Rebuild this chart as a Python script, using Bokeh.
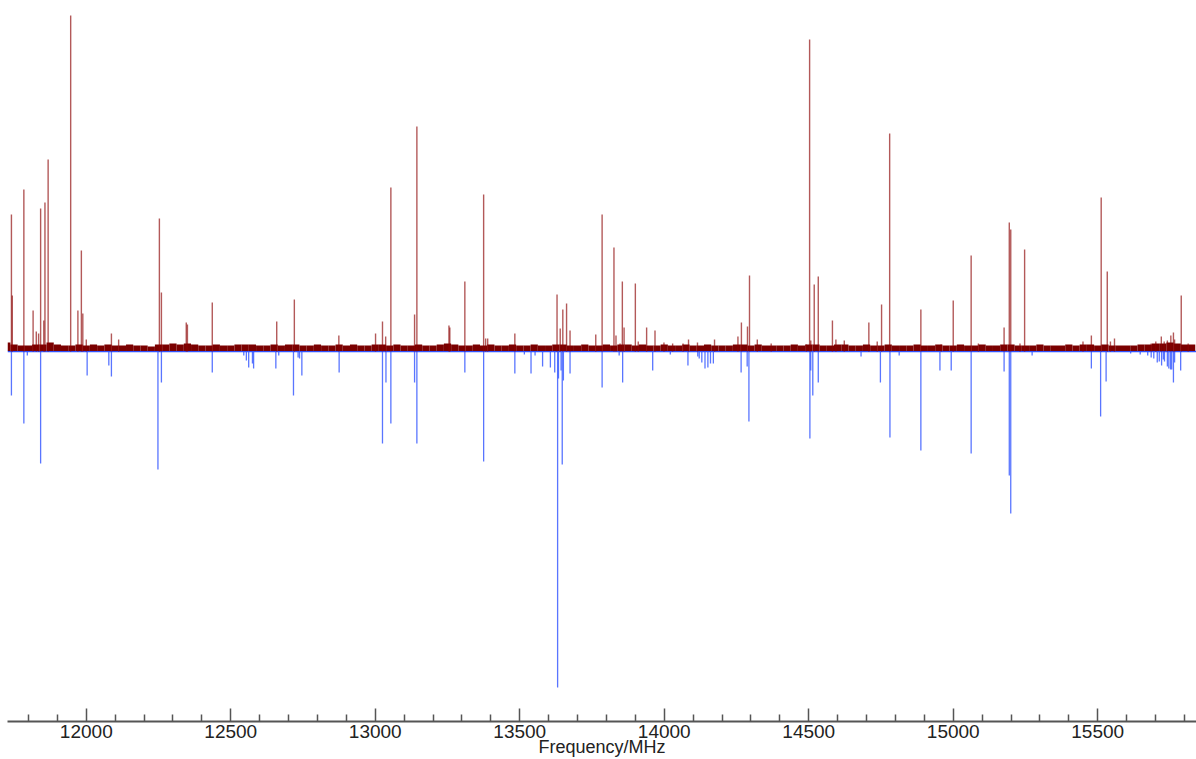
import numpy as np
from bokeh.plotting import figure
from bokeh.models import ColumnDataSource, Range1d, Span, FixedTicker
from bokeh.embed import file_html
from bokeh.resources import INLINE

# ---------------- data ----------------
# experimental spectrum: strong lines (frequency in MHz, intensity in arbitrary units)
exp_freq = [11741, 11744, 11784, 11816, 11827, 11835, 11842, 11853, 11857, 11868,
            11946, 11971, 11983, 11988, 12000, 12087, 12112, 12253, 12260, 12346,
            12350, 12436, 12659, 12720, 12874, 13001, 13025, 13036, 13054, 13136,
            13144, 13255, 13258, 13310, 13375, 13382, 13389, 13483, 13629, 13640,
            13649, 13662, 13674, 13763, 13785, 13826, 13833, 13847, 13855, 13861,
            13900, 13910, 13939, 13968, 13999, 14029, 14065, 14084, 14115, 14174,
            14255, 14267, 14288, 14295, 14322, 14370, 14492, 14503, 14507, 14519,
            14533, 14582, 14594, 14623, 14708, 14737, 14752, 14780, 14888, 14958,
            15000, 15062, 15087, 15176, 15194, 15199, 15231, 15247, 15449, 15478,
            15512, 15533, 15544, 15558, 15685, 15701, 15720, 15730, 15741, 15753,
            15762, 15766, 15789, 15813]
exp_int = [137, 56, 162, 41, 20, 18, 143, 31, 149, 192,
           336, 41, 101, 38, 12, 18, 12, 133, 59, 29,
           27, 49, 30, 52, 16, 18, 30, 15, 164, 37,
           225, 26, 24, 70, 157, 13, 13, 18, 57, 23,
           42, 48, 21, 17, 137, 104, 16, 8, 70, 24,
           68, 10, 24, 21, 9, 8, 8, 12, 9, 12,
           15, 29, 25, 76, 12, 8, 7, 312, 11, 67,
           75, 31, 12, 11, 29, 10, 47, 218, 42, 7,
           51, 96, 8, 24, 129, 122, 8, 102, 10, 16,
           154, 80, 10, 13, 8, 10, 15, 10, 11, 16,
           19, 12, 56, 8]

# experimental noise floor, sampled every 25 MHz from 11725 MHz
noise_start = 11725
noise_step = 25
noise_level = [9, 7, 6, 6, 7, 7, 9, 7, 6, 6, 7, 6, 7, 6, 7, 6, 6, 7, 6, 6,
               5, 7, 7, 8, 7, 8, 7, 6, 6, 7, 6, 6, 7, 7, 7, 6, 6, 7, 6, 7,
               7, 6, 6, 7, 6, 6, 7, 6, 7, 6, 6, 7, 7, 6, 7, 6, 6, 7, 6, 6,
               7, 8, 7, 6, 6, 7, 6, 7, 6, 6, 7, 6, 6, 7, 6, 6, 7, 7, 6, 6,
               7, 6, 6, 7, 6, 7, 7, 6, 7, 6, 6, 7, 6, 6, 7, 6, 6, 7, 6, 6,
               6, 7, 7, 6, 7, 6, 6, 6, 6, 7, 6, 7, 7, 6, 6, 7, 7, 6, 6, 7,
               6, 6, 7, 6, 6, 6, 7, 6, 6, 7, 6, 6, 7, 6, 6, 7, 6, 6, 7, 7,
               6, 6, 6, 7, 6, 6, 6, 7, 6, 7, 7, 6, 7, 6, 6, 6, 6, 7, 7, 8,
               8, 9, 8, 7, 7]

# predicted (simulated) stick spectrum, drawn downward
sim_freq = [11741, 11784, 11796, 11842, 12003, 12078, 12087, 12248, 12260, 12436,
            12545, 12554, 12562, 12575, 12579, 12656, 12666, 12717, 12733, 12738,
            12746, 12875, 13025, 13037, 13054, 13136, 13144, 13310, 13375, 13483,
            13516, 13539, 13553, 13579, 13606, 13621, 13631, 13634, 13643, 13647,
            13651, 13674, 13785, 13844, 13856, 13960, 14021, 14082, 14116, 14121,
            14130, 14141, 14151, 14160, 14170, 14266, 14287, 14293, 14504, 14507,
            14514, 14533, 14681, 14748, 14781, 14813, 14888, 14954, 14993, 15062,
            15176, 15194, 15199, 15273, 15478, 15510, 15529, 15614, 15647, 15673,
            15685, 15694, 15706, 15713, 15721, 15727, 15731, 15741, 15746, 15752,
            15756, 15762, 15766, 15787]
sim_int = [44, 72, 4, 112, 24, 14, 25, 118, 31, 21,
           4, 9, 16, 12, 17, 17, 4, 44, 6, 7,
           24, 21, 92, 31, 72, 31, 92, 21, 110, 22,
           3, 22, 4, 15, 16, 21, 336, 27, 19, 113,
           29, 22, 36, 4, 31, 19, 3, 14, 5, 7,
           11, 17, 16, 12, 12, 21, 15, 70, 87, 19,
           44, 31, 5, 31, 86, 4, 99, 19, 19, 102,
           20, 124, 162, 4, 17, 65, 30, 2, 3, 4,
           6, 7, 11, 10, 14, 8, 10, 15, 17, 18,
           18, 31, 11, 19]

x_start, x_end = 11727.4, 15841.8
y_start, y_end = -370, 341
major_ticks = [12000, 12500, 13000, 13500, 14000, 14500, 15000, 15500]
minor_ticks = [11800, 11900, 12100, 12200, 12300, 12400, 12600, 12700, 12800, 12900,
               13100, 13200, 13300, 13400, 13600, 13700, 13800, 13900, 14100, 14200,
               14300, 14400, 14600, 14700, 14800, 14900, 15100, 15200, 15300, 15400,
               15600, 15700, 15800]

# ---------------- figure ----------------
p = figure(width=1196, height=759, output_backend="svg", toolbar_location=None,
           x_range=Range1d(x_start, x_end), y_range=Range1d(y_start, y_end),
           y_axis_location=None, min_border_left=7, min_border_right=0,
           min_border_top=10, min_border_bottom=0)
p.outline_line_color = None
p.xgrid.visible = False
p.ygrid.visible = False
p.background_fill_color = "white"
p.border_fill_color = "white"

RED = "#8b0000"
BLUE = "#2f52ff"

sim_src = ColumnDataSource(dict(x=sim_freq, y0=[0] * len(sim_freq),
                                y1=[-v for v in sim_int]))
p.segment(x0="x", y0="y0", x1="x", y1="y1", source=sim_src,
          line_color=BLUE, line_width=1.3, line_alpha=0.8)

base = Span(location=0, dimension="width", line_color=BLUE, line_width=1.6)
base.level = "underlay"
p.add_layout(base)

noise_x = noise_start + noise_step * np.arange(len(noise_level))
noise_src = ColumnDataSource(dict(x=noise_x, top=noise_level))
p.vbar(x="x", top="top", bottom=0.5, width=noise_step, source=noise_src,
       fill_color="#7a0000", line_color=None)

exp_src = ColumnDataSource(dict(x=exp_freq, y0=[0] * len(exp_freq), y1=exp_int))
p.segment(x0="x", y0="y0", x1="x", y1="y1", source=exp_src,
          line_color=RED, line_width=1.4, line_alpha=0.65)

ax = p.xaxis[0]
ax.ticker = FixedTicker(ticks=major_ticks, minor_ticks=minor_ticks)
ax.axis_label = "Frequency/MHz"
ax.axis_label_text_font = "Liberation Sans"
ax.axis_label_text_font_size = "18px"
ax.axis_label_text_font_style = "normal"
ax.axis_label_text_color = "#222222"
ax.axis_label_standoff = -4
ax.major_label_text_font = "Liberation Sans"
ax.major_label_text_font_size = "19px"
ax.major_label_text_color = "#222222"
ax.major_label_standoff = 3
ax.axis_line_color = "#555555"
ax.axis_line_width = 2
ax.major_tick_line_color = "#555555"
ax.major_tick_line_width = 1.5
ax.minor_tick_line_color = "#555555"
ax.minor_tick_line_width = 1.5
ax.major_tick_in = 13
ax.major_tick_out = 0
ax.minor_tick_in = 7
ax.minor_tick_out = 0

open("out.html", "w").write(file_html(p, INLINE))
